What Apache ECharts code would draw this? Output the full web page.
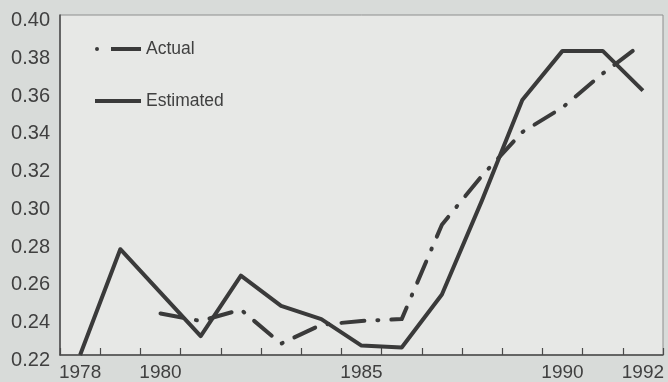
<!DOCTYPE html>
<html>
<head>
<meta charset="utf-8">
<script src="https://cdn.jsdelivr.net/npm/echarts@6/dist/echarts.min.js"></script>
<style>
  html, body { margin: 0; padding: 0; background: #d8dbd9; }
  #chart { width: 668px; height: 382px; }
</style>
</head>
<body>
<div id="chart"></div>
<script>
// Years on the horizontal axis and the ones that carry a label
const years = ['1978', '1979', '1980', '1981', '1982', '1983', '1984', '1985',
               '1986', '1987', '1988', '1989', '1990', '1991', '1992'];
const labelledYears = ['1978', '1980', '1985', '1990', '1992'];

// Series values per year (null where a series has no observation)
const actual = [null, null, 0.242, 0.238, 0.244, 0.226, 0.236, 0.238,
                0.239, 0.289, 0.315, 0.338, 0.351, 0.369, 0.385];
const estimated = [0.220, 0.276, 0.253, 0.230, 0.262, 0.246, 0.239, 0.225,
                   0.224, 0.252, 0.302, 0.355, 0.381, 0.381, 0.360];

// Vertical axis range and step
const yMin = 0.22;
const yMax = 0.40;
const yStep = 0.02;

const ink = '#3a3a3a';
const textInk = '#404040';
const font = '"Liberation Sans", Arial, Helvetica, sans-serif';

// Legend glyphs: a dot followed by a dash, and a plain bar
const actualIcon = 'path://M0 0M46 4M0 2a2 2 0 1 0 4 0a2 2 0 1 0 -4 0ZM16 0h30v4h-30Z';
const estimatedIcon = 'path://M0 0h46v4h-46Z';

const chart = echarts.init(document.getElementById('chart'), null, { renderer: 'canvas' });

chart.setOption({
  backgroundColor: '#d8dbd9',
  animation: false,
  grid: {
    left: 60, right: 5, top: 15, bottom: 27,
    show: true,
    backgroundColor: '#e7e8e6',
    borderColor: '#8e8e8e',
    borderWidth: 1
  },
  legend: {
    orient: 'vertical',
    left: 90,
    top: 35,
    itemWidth: 46,
    itemHeight: 4,
    itemGap: 34,
    textStyle: { fontFamily: font, fontSize: 17.5, color: textInk },
    data: [
      { name: 'Actual', icon: actualIcon, itemStyle: { color: ink } },
      { name: 'Estimated', icon: estimatedIcon, itemStyle: { color: ink } }
    ]
  },
  xAxis: {
    type: 'category',
    data: years,
    boundaryGap: true,
    axisLine: { show: true, lineStyle: { color: '#4a4a4a', width: 1.5 } },
    axisTick: { show: true, inside: true, length: 7, interval: 0,
                lineStyle: { color: '#4a4a4a', width: 1.2 } },
    axisLabel: {
      interval: (idx, val) => labelledYears.includes(val),
      margin: 8,
      fontFamily: font, fontSize: 19, color: textInk
    },
    splitLine: { show: false }
  },
  yAxis: {
    type: 'value',
    min: yMin, max: yMax, interval: yStep,
    axisLine: { show: true, lineStyle: { color: '#4a4a4a', width: 1.5 } },
    axisTick: { show: false },
    splitLine: { show: false },
    axisLabel: {
      margin: 10,
      verticalAlign: 'top',
      lineHeight: 11,
      fontFamily: font, fontSize: 20, color: textInk,
      formatter: v => v.toFixed(2)
    }
  },
  series: [
    {
      name: 'Actual',
      type: 'line',
      data: actual,
      showSymbol: false,
      symbol: 'none',
      clip: false,
      connectNulls: false,
      lineStyle: { color: ink, width: 4, type: [23, 13, 1, 13], cap: 'round', join: 'round' },
      itemStyle: { color: ink },
      z: 3
    },
    {
      name: 'Estimated',
      type: 'line',
      data: estimated,
      showSymbol: false,
      symbol: 'none',
      clip: false,
      lineStyle: { color: ink, width: 4, join: 'round' },
      itemStyle: { color: ink },
      z: 2
    }
  ]
});
</script>
</body>
</html>
